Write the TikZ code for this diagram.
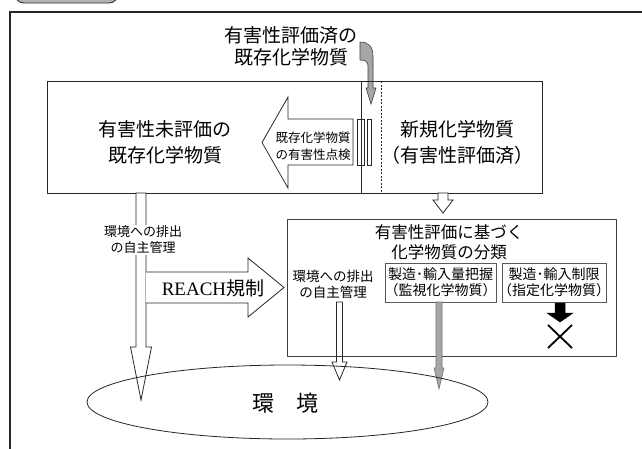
\documentclass[tikz,border=0pt]{standalone}
\usepackage{fontspec}
\setmainfont{Liberation Serif}
\newfontfamily\jp{Noto Sans CJK JP}
\newcommand\dnarr[7][]{\draw[#1] (#2-#5,#3) -- (#2-#5,#4) -- (#2-#6,#4) -- (#2,#7) -- (#2+#6,#4) -- (#2+#5,#4) -- (#2+#5,#3) -- cycle;}
\tikzset{
  ln/.style={draw=black!85, line width=0.8pt},
  jbig/.style={font=\jp\fontsize{19}{26}\selectfont, align=center, inner sep=0pt},
  jtop/.style={font=\jp\fontsize{19}{22}\selectfont, align=center, inner sep=0pt},
  jmid/.style={font=\jp\fontsize{16.5}{20}\selectfont, align=center, inner sep=0pt},
  jsm/.style={font=\jp\fontsize{13}{16}\selectfont, align=center, inner sep=0pt},
  jbox/.style={font=\jp\fontsize{14}{16}\selectfont, align=center, inner sep=0pt},
  sbox/.style={draw=black!65, line width=0.8pt},
  grayarr/.style={draw=black!55, fill=black!35, line width=0.6pt},
}
\begin{document}
\begin{tikzpicture}[x=1pt,y=-1pt]
\useasboundingbox (0,0) rectangle (642,448);
\clip (0,0) rectangle (642,448);
\fill[white] (0,0) rectangle (642,448);
% tab and frame
\draw[draw=black!80, fill=black!30, line width=0.9pt, rounded corners=9pt] (15,-20) rectangle (118,3);
\draw[black!85, line width=1.2pt] (10,460) -- (10,12) -- (660,12);
% top label and curved gray arrow
\node[jtop] (toplbl) at (291,46) {有害性評価済の\\既存化学物質};
\draw[grayarr, draw=black!75]
  (360,42) .. controls (368,42) and (373,46) .. (373,56) -- (373,88) -- (376,88) -- (371,104)
  -- (366,88) -- (368,88) -- (368,66) .. controls (368,62) and (366,60) .. (360,60) -- cycle;
% main box
\draw[ln] (47,81) rectangle (542,193);
\coordinate (divT) at (361,81); \coordinate (divB) at (361,193);
\draw[ln] (divT) -- (divB);
\coordinate (dshT) at (381,81); \coordinate (dshB) at (381,193);
\draw[ln, dashed, dash pattern=on 2pt off 1.5pt, line width=0.6pt] (dshT) -- (dshB);
\node[jbig] (unev) at (165,142) {有害性未評価の\\既存化学物質};
\node[jbig] (newc) at (457,142) {新規化学物質\\（有害性評価済）};
% striped left arrow
\draw[ln, fill=white] (353,119) -- (288,119) -- (288,97) -- (262,142.5) -- (288,188) -- (288,165) -- (353,165) -- cycle;
\draw[ln, fill=white] (357,119) rectangle (364,165);
\draw[ln] (divT) -- (divB);
\draw[ln, fill=white] (367,119) rectangle (371,165);
\node[jsm, font=\jp\fontsize{12.5}{16.5}\selectfont] (check) at (313,146) {既存化学物質\\の有害性点検};
% small hollow arrow below new box
\dnarr[ln, fill=white]{443}{193}{200}{5}{10}{213}
% left long hollow arrow
\dnarr[ln, fill=white]{141}{193}{347}{5}{10.5}{400}
\node[jsm, fill=white, inner sep=1pt] (selfL) at (143,240) {環境への排出\\の自主管理};
% REACH arrow
\draw[ln, fill=white] (146,272) -- (248,272) -- (248,258) -- (284,287.5) -- (248,317) -- (248,303) -- (146,303);
\node[font=\fontsize{19}{22}\selectfont, inner sep=0pt] (reach) at (213,288) {REACH{\jp 規制}};
% classification box
\draw[ln, draw=black!75] (287,219) rectangle (616,356);
\node[jmid] (clsT) at (449,242) {有害性評価に基づく\\化学物質の分類};
\node[jsm, font=\jp\fontsize{13.5}{16}\selectfont] (selfR) at (333,284) {環境への排出\\の自主管理};
\draw[sbox] (385,263) rectangle (496,302);
\node[jbox] (watch) at (440.5,282.5) {製造･輸入量把握\\（監視化学物質）};
\draw[sbox] (502,263) rectangle (606,302);
\node[jbox] (spec) at (554,282.5) {製造･輸入制限\\（指定化学物質）};
% black arrow and cross
\dnarr[draw=black, fill=black, line width=0.5pt]{560}{303}{313}{5}{13}{322}
\draw[black, line width=1.8pt] (548,325) -- (572,348) (548,348) -- (572,325);
% gray arrow
\dnarr[grayarr]{439}{302}{368}{3}{5}{389}
% inner hollow arrow
\dnarr[ln]{339.5}{302}{362}{3}{7.5}{380}
% environment ellipse
\draw[ln] (287.5,402) ellipse [x radius=200.5, y radius=37];
\node[font=\jp\fontsize{22}{26}\selectfont, inner sep=0pt] (env) at (285,403) {環　境};
\end{tikzpicture}
\end{document}
